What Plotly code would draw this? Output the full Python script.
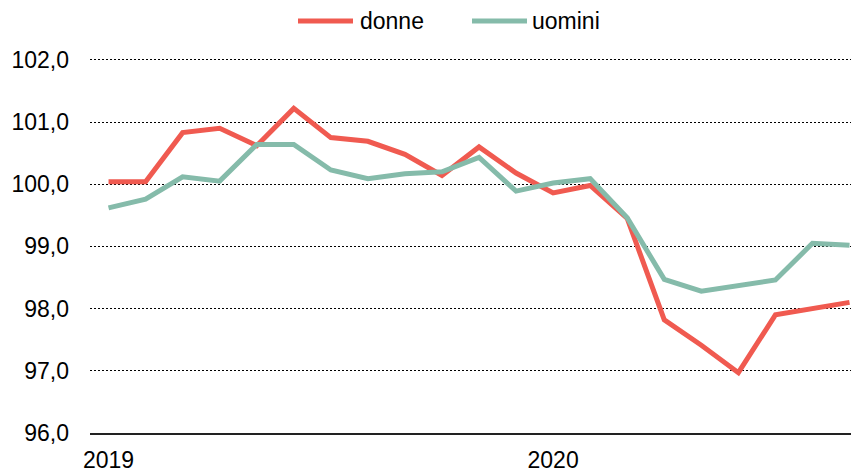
import plotly.graph_objects as go

mesi = ["gen 2019", "feb 2019", "mar 2019", "apr 2019", "mag 2019", "giu 2019",
        "lug 2019", "ago 2019", "set 2019", "ott 2019", "nov 2019", "dic 2019",
        "gen 2020", "feb 2020", "mar 2020", "apr 2020", "mag 2020", "giu 2020",
        "lug 2020", "ago 2020", "set 2020"]
donne = [100.04, 100.04, 100.83, 100.90, 100.62, 101.22, 100.75, 100.69, 100.48, 100.14,
         100.60, 100.18, 99.86, 99.98, 99.45, 97.82, 97.41, 96.97, 97.90, 98.00, 98.10]
uomini = [99.62, 99.76, 100.12, 100.05, 100.64, 100.64, 100.23, 100.09, 100.17, 100.20,
          100.43, 99.89, 100.02, 100.09, 99.46, 98.47, 98.28, 98.38, 98.46, 99.05, 99.02]
tick_vals = ["gen 2019", "gen 2020"]
tick_text = ["2019", "2020"]
y_ticks = [96, 97, 98, 99, 100, 101, 102]
y_text = ["96,0", "97,0", "98,0", "99,0", "100,0", "101,0", "102,0"]

RED = "#F05A50"
GREEN = "#85BBAA"
FONT = "Liberation Sans, Arial, sans-serif"
FS = 23

# page offset of the plot div (default body margin) is 8px
W, H = 859, 467
ML, MT, MB = 82, 50, 42
PW = W - ML
PH = H - MT - MB
Y_TOP = 102.03

fig = go.Figure()
fig.add_trace(go.Scatter(x=mesi, y=donne, mode="lines", name="donne",
                         line=dict(color=RED, width=5), showlegend=False))
fig.add_trace(go.Scatter(x=mesi, y=uomini, mode="lines", name="uomini",
                         line=dict(color=GREEN, width=5), showlegend=False))

# custom legend (line samples + labels); positions in page pixels
legend_items = [("donne", RED, 298, 353, 358), ("uomini", GREEN, 472, 527, 530)]
def px(xp):
    return (xp - 8 - ML) / PW
def py(yp):
    return 1 + ((MT + 8) - yp) / PH
for name, col, x0, x1, xt in legend_items:
    fig.add_shape(type="line", xref="paper", yref="paper",
                  x0=px(x0), x1=px(x1), y0=py(21), y1=py(21),
                  line=dict(color=col, width=5))
    fig.add_annotation(text=name, xref="paper", yref="paper",
                       x=px(xt), y=py(21),
                       xanchor="left", yanchor="middle", showarrow=False,
                       font=dict(family=FONT, size=FS, color="black"))

fig.update_layout(
    width=W, height=H,
    margin=dict(l=ML, r=0, t=MT, b=MB),
    paper_bgcolor="white", plot_bgcolor="white",
    font=dict(family=FONT, size=FS, color="black"),
)
fig.update_xaxes(
    type="category", range=[-0.5, -0.5 + PW / 37.05],
    tickmode="array", tickvals=tick_vals, ticktext=tick_text,
    showgrid=False, zeroline=False,
    showline=True, linecolor="#222222", linewidth=2,
    ticks="", ticklabelstandoff=5,
    tickfont=dict(family=FONT, size=FS, color="black"),
)
fig.update_yaxes(
    range=[96, Y_TOP], tickmode="array", tickvals=y_ticks, ticktext=y_text,
    showgrid=True, gridcolor="black", gridwidth=1, griddash="2px,2px",
    zeroline=False, showline=False, ticks="", ticklabelstandoff=20,
    tickfont=dict(family=FONT, size=FS, color="black"),
)

fig.write_html("out.html")
